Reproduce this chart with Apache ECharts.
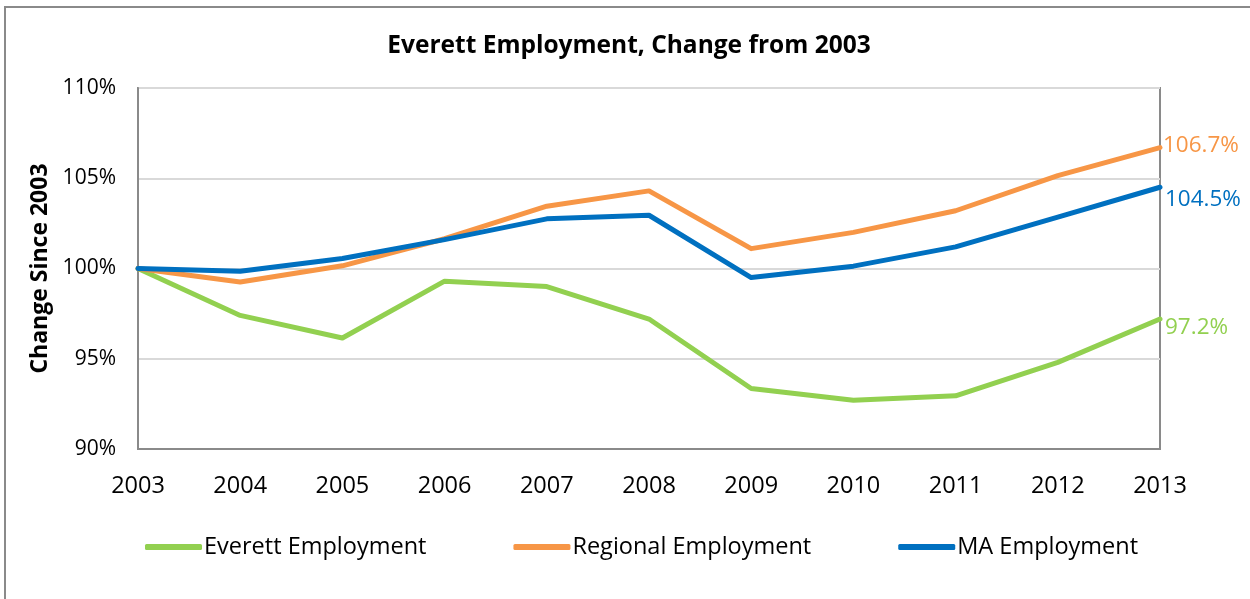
<!DOCTYPE html>
<html>
<head>
<meta charset="utf-8">
<script src="https://cdn.jsdelivr.net/npm/echarts@6/dist/echarts.min.js"></script>
<style>
  html, body { margin: 0; padding: 0; background: #ffffff; }
  #frame {
    position: absolute; left: 4px; top: 6px; width: 1260px; height: 610px;
    border: 2px solid #8a8a8a; box-sizing: border-box;
  }
  #chart { position: absolute; left: 0; top: 0; width: 1250px; height: 599px; }
</style>
</head>
<body>
<div id="frame"></div>
<div id="chart"></div>
<script>
// Employment indexed to 2003 = 100%
const years = ['2003', '2004', '2005', '2006', '2007', '2008', '2009', '2010', '2011', '2012', '2013'];
const everett = [100.0, 97.4, 96.15, 99.3, 99.0, 97.2, 93.35, 92.7, 92.95, 94.8, 97.2];
const regional = [100.0, 99.25, 100.15, 101.65, 103.45, 104.3, 101.1, 102.0, 103.2, 105.15, 106.7];
const massachusetts = [100.0, 99.85, 100.55, 101.6, 102.75, 102.95, 99.5, 100.13, 101.2, 102.85, 104.5];
const seriesNames = ['Everett Employment', 'Regional Employment', 'MA Employment'];
const yTicks = { min: 90, max: 110, step: 5 };

const FONT = 'Open Sans';
const colors = ['#92D050', '#F79646', '#0070C0'];
const labelOffsets = [[2, 9], [0, -2], [2, 12]];

const chart = echarts.init(document.getElementById('chart'), null, { renderer: 'canvas' });

function makeSeries(name, data, idx) {
  return {
    name: name,
    type: 'line',
    data: data,
    symbol: 'none',
    smooth: false,
    lineStyle: { width: 5, color: colors[idx], cap: 'round', join: 'round' },
    itemStyle: { color: colors[idx] },
    endLabel: {
      show: true,
      formatter: p => p.value.toFixed(1) + '%',
      color: colors[idx],
      fontFamily: FONT,
      fontSize: 22.5,
      distance: 3,
      offset: labelOffsets[idx]
    },
    z: 3 + (idx === 2 ? 1 : 0)
  };
}

chart.setOption({
  animation: false,
  backgroundColor: 'transparent',
  title: {
    text: 'Everett Employment, Change from 2003',
    left: 624, textAlign: 'center', top: 29,
    textStyle: { fontFamily: FONT, fontWeight: 'bold', fontSize: 24.5, color: '#000' }
  },
  legend: {
    left: 140, top: 530,
    itemWidth: 57, itemHeight: 6, itemGap: 87,
    icon: 'roundRect',
    textStyle: { fontFamily: FONT, fontSize: 23.5, color: '#000', padding: [0, 0, 0, -3] },
    data: seriesNames
  },
  grid: { left: 138, right: 90, top: 88, bottom: 150, containLabel: false, show: true, borderColor: '#8a8a8a', borderWidth: 2 },
  xAxis: {
    type: 'category',
    data: years,
    boundaryGap: false,
    axisLine: { show: true, lineStyle: { color: '#8a8a8a', width: 2 } },
    axisTick: { show: false },
    axisLabel: { margin: 25, fontFamily: FONT, fontSize: 23.5, color: '#000' },
    splitLine: { show: false }
  },
  yAxis: {
    type: 'value',
    min: yTicks.min, max: yTicks.max, interval: yTicks.step,
    name: 'Change Since 2003',
    nameLocation: 'middle',
    nameGap: 86,
    nameRotate: 90,
    nameTextStyle: { fontFamily: FONT, fontWeight: 'bold', fontSize: 23, color: '#000' },
    axisLine: { show: true, lineStyle: { color: '#8a8a8a', width: 2 } },
    axisTick: { show: false },
    axisLabel: { margin: 22, fontFamily: FONT, fontSize: 21, color: '#000', formatter: '{value}%' },
    splitLine: { show: true, lineStyle: { color: '#d9d9d9', width: 2 } }
  },
  series: [
    makeSeries(seriesNames[0], everett, 0),
    makeSeries(seriesNames[1], regional, 1),
    makeSeries(seriesNames[2], massachusetts, 2)
  ]
});
</script>
</body>
</html>
